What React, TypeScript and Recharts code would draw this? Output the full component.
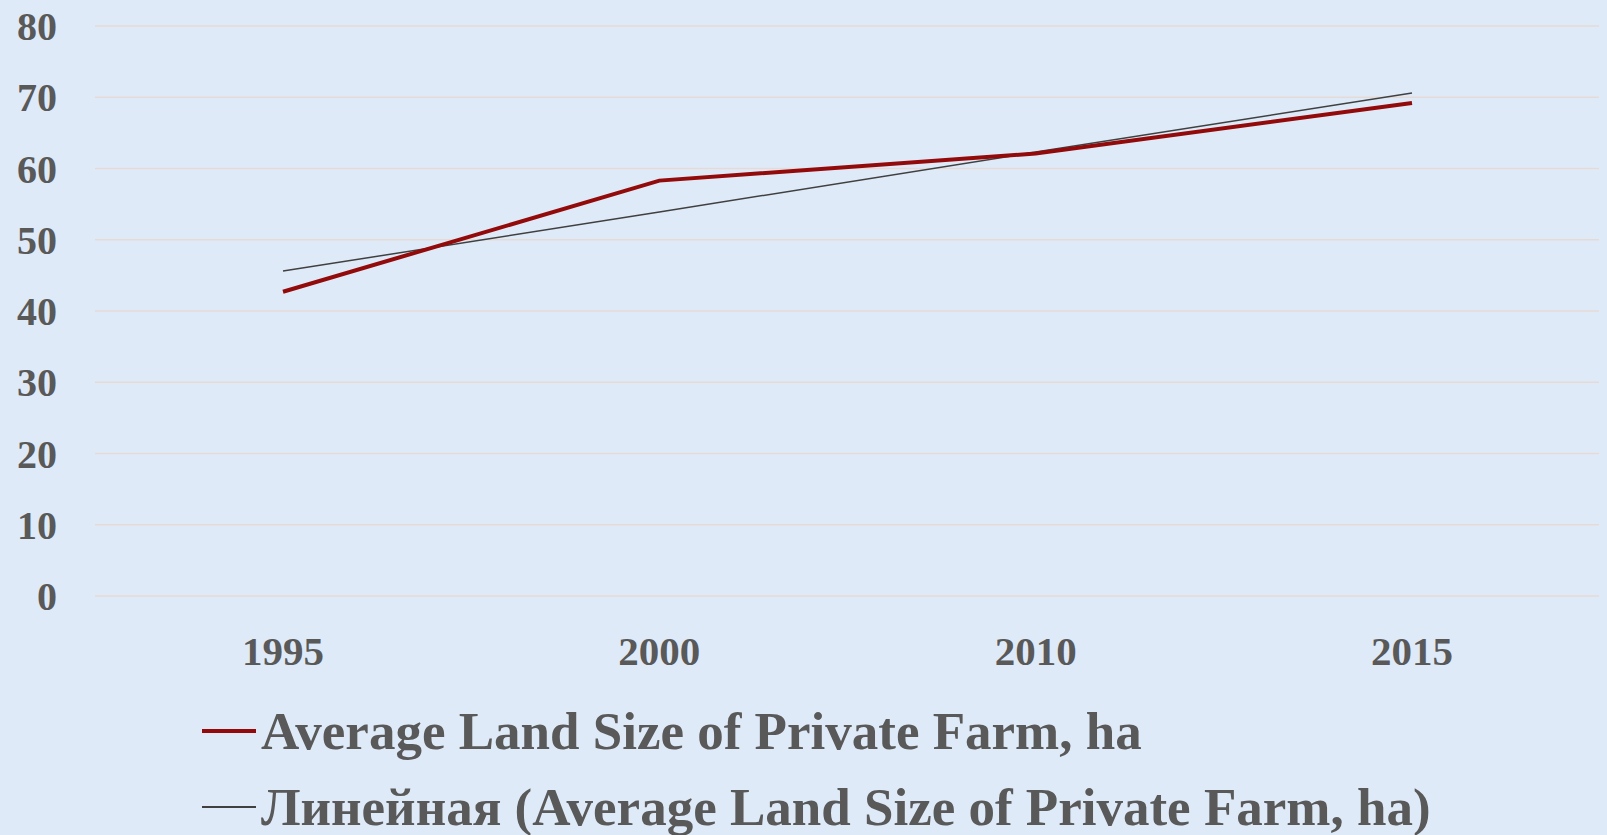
import { LineChart, Line, XAxis, YAxis, CartesianGrid } from 'recharts'

const years = ['1995', '2000', '2010', '2015']
const avgLandSize = [42.7, 58.3, 62.1, 69.2]
const linearTrend = [45.6, 53.9, 62.3, 70.6]
const yTicks = [0, 10, 20, 30, 40, 50, 60, 70, 80]

const SERIES_NAME = 'Average Land Size of Private Farm, ha'
const TREND_NAME = 'Линейная (Average Land Size of Private Farm, ha)'

const data = years.map((year, i) => ({
  year,
  avg: avgLandSize[i],
  trend: linearTrend[i],
}))

const FONT = '"Liberation Serif", "Times New Roman", serif'
const TEXT = '#595959'

function LegendBox() {
  const rows = [
    { label: SERIES_NAME, color: '#930a0a', width: 4 },
    { label: TREND_NAME, color: '#404040', width: 1.5 },
  ]
  return (
    <div
      style={{
        position: 'absolute',
        left: 202,
        top: 693,
        fontFamily: FONT,
        fontWeight: 700,
        color: TEXT,
        whiteSpace: 'nowrap',
      }}
    >
      {rows.map((r) => (
        <div key={r.label} style={{ display: 'flex', alignItems: 'center', height: 76, fontSize: 53 }}>
          <span
            style={{
              display: 'inline-block',
              width: 54,
              height: r.width,
              background: r.color,
              marginRight: 5,
            }}
          />
          <span>{r.label}</span>
        </div>
      ))}
    </div>
  )
}

export default function App() {
  return (
    <div
      style={{
        position: 'absolute',
        left: 0,
        top: 0,
        width: 1607,
        height: 835,
        background: '#dfeaf8',
        overflow: 'hidden',
      }}
    >
      <LineChart width={1607} height={835} data={data} margin={{ top: 26, right: 8, left: 0, bottom: 0 }}>
        <CartesianGrid vertical={false} stroke="#e6dad6" strokeWidth={1.5} />
        <XAxis
          dataKey="year"
          axisLine={false}
          tickLine={false}
          tickMargin={34}
          height={239}
          padding={{ left: 188, right: 187 }}
          tick={{ fill: TEXT, fontSize: 41, fontWeight: 700, fontFamily: FONT }}
        />
        <YAxis
          domain={[0, 80]}
          ticks={yTicks}
          interval={0}
          axisLine={false}
          tickLine={false}
          width={95}
          tickMargin={32}
          tick={{ fill: TEXT, fontSize: 40, fontWeight: 700, fontFamily: FONT }}
        />
        <Line
          type="linear"
          dataKey="trend"
          name={TREND_NAME}
          stroke="#404040"
          strokeWidth={1.5}
          dot={false}
          isAnimationActive={false}
        />
        <Line
          type="linear"
          dataKey="avg"
          name={SERIES_NAME}
          stroke="#930a0a"
          strokeWidth={4}
          dot={false}
          isAnimationActive={false}
        />
      </LineChart>
      <LegendBox />
    </div>
  )
}
